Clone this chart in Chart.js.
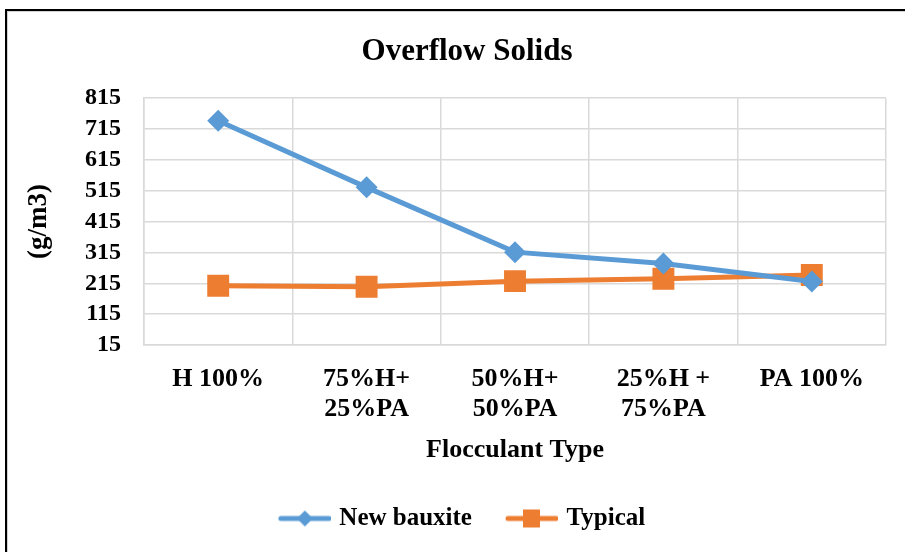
<!DOCTYPE html>
<html>
<head>
<meta charset="utf-8">
<script src="https://cdn.jsdelivr.net/npm/chart.js@4/dist/chart.umd.min.js"></script>
<style>
  html, body { margin: 0; padding: 0; background: #fff; }
  #frame { position: absolute; left: 5px; top: 9px; width: 920px; height: 560px;
           border-left: 2px solid #000; border-top: 2px solid #000;
           box-shadow: inset 1px 1px 0 #d0d0d0; }
  #myChart { position: absolute; left: 0; top: 0; }
</style>
</head>
<body>
<div id="frame"></div>
<canvas id="myChart" width="905" height="552"></canvas>
<script>
    // data
    const categorias = [['H 100%'], ['75%H+', '25%PA'], ['50%H+', '50%PA'], ['25%H +', '75%PA'], ['PA 100%']]
    const newBauxite = [742, 526, 316, 279, 221]
    const typical = [207, 204, 222, 230, 242]
    const yTicks = [15, 115, 215, 315, 415, 515, 615, 715, 815]

    const azul = '#5B9BD5'
    const naranja = '#ED7D31'
    const fuente = '"Liberation Serif", "Times New Roman", serif'

    // legend markers: short line with the point on top (left part left blank as gap)
    const marcador = (color, tipo) => {
        const c = document.createElement('canvas')
        c.width = 70; c.height = 24
        const g = c.getContext('2d')
        g.strokeStyle = color; g.lineWidth = 5; g.lineCap = 'round'
        g.beginPath(); g.moveTo(20, 12); g.lineTo(68, 12); g.stroke()
        g.fillStyle = color
        g.beginPath()
        if (tipo === 'diamond') {
            g.moveTo(44, 4); g.lineTo(52, 12); g.lineTo(44, 20); g.lineTo(36, 12)
        } else {
            g.rect(35, 3, 17, 18)
        }
        g.fill()
        return c
    }

    // centre of title and legend sits a bit right of the canvas middle
    const mover = {
        id: 'mover',
        afterLayout(chart) {
            chart.legend.left += 12
            chart.legend.right += 12
            chart.titleBlock.left += 24
            chart.titleBlock.right += 24
        }
    }

    const ctx = document.getElementById('myChart')

    new Chart(ctx, {
    type: 'line',
    data: {
        labels: categorias,
        datasets: [{
            label: 'New bauxite',
            data: newBauxite,
            borderColor: azul,
            backgroundColor: azul,
            borderWidth: 5,
            pointStyle: 'rectRot',
            pointRadius: 11,
            pointHoverRadius: 11,
            pointBorderWidth: 0
        }, {
            label: 'Typical',
            data: typical,
            borderColor: naranja,
            backgroundColor: naranja,
            borderWidth: 5,
            pointStyle: 'rect',
            pointRadius: 15.5,
            pointHoverRadius: 15.5,
            pointBorderWidth: 0
        }]
    },
    plugins: [mover],
    options: {
        responsive: false,
        animation: false,
        layout: { padding: { left: 0, right: 19, top: 0, bottom: 11 } },
        plugins: {
            title: {
                display: true,
                text: 'Overflow Solids',
                color: '#000',
                font: { family: fuente, size: 31, weight: 'bold' },
                padding: { top: 33, bottom: 28 }
            },
            legend: {
                position: 'bottom',
                labels: {
                    usePointStyle: true,
                    pointStyleWidth: 62,
                    padding: 20,
                    color: '#000',
                    font: { family: fuente, size: 25, weight: 'bold' },
                    generateLabels: (chart) => chart.data.datasets.map((ds, i) => ({
                        text: ds.label,
                        pointStyle: marcador(ds.borderColor, i === 0 ? 'diamond' : 'square'),
                        fillStyle: ds.borderColor,
                        strokeStyle: ds.borderColor,
                        lineWidth: 0,
                        hidden: false,
                        datasetIndex: i
                    }))
                }
            },
            tooltip: { enabled: false }
        },
        scales: {
            x: {
                offset: true,
                grid: { offset: true, color: '#d9d9d9', lineWidth: 1.5, drawTicks: false },
                border: { color: '#d9d9d9', width: 1.5 },
                ticks: {
                    color: '#000',
                    padding: 19,
                    maxRotation: 0,
                    autoSkip: false,
                    font: { family: fuente, size: 26, weight: 'bold', lineHeight: 1.154 }
                },
                title: {
                    display: true,
                    text: 'Flocculant Type',
                    color: '#000',
                    font: { family: fuente, size: 26, weight: 'bold' },
                    padding: { top: 0, bottom: 20 }
                },
                afterFit: (scale) => { scale.height = 141 }
            },
            y: {
                min: 15,
                max: 815,
                afterBuildTicks: (scale) => { scale.ticks = yTicks.map(v => ({ value: v })) },
                grid: { color: '#d9d9d9', lineWidth: 1.5, drawTicks: false },
                border: { color: '#d9d9d9', width: 1.5 },
                ticks: {
                    color: '#000',
                    padding: 23,
                    autoSkip: false,
                    font: { family: fuente, size: 24, weight: 'bold' }
                },
                title: {
                    display: true,
                    text: '(g/m3)',
                    color: '#000',
                    font: { family: fuente, size: 27, weight: 'bold' },
                    padding: { top: 23, bottom: 0 }
                },
                afterFit: (scale) => { scale.width = 144 }
            }
        }
    }
});
</script>
</body>
</html>
